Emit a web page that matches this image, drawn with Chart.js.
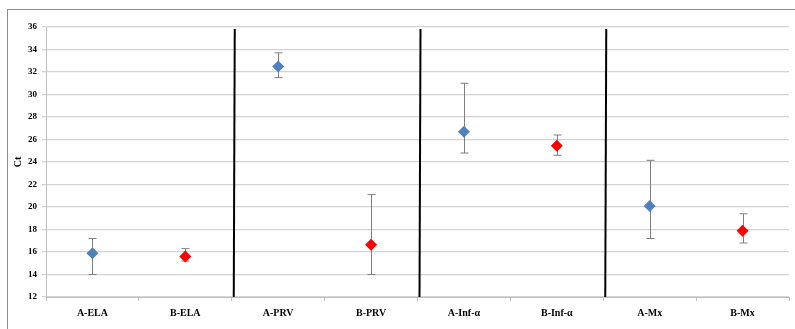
<!DOCTYPE html>
<html>
<head>
<meta charset="utf-8">
<script src="https://cdn.jsdelivr.net/npm/chart.js@4"></script>
<style>
  html, body { margin: 0; padding: 0; background: #fff; overflow: hidden; }
  #frame { position: absolute; left: 7px; top: 9px; width: 820px; height: 360px; border: 1px solid #8c8c8c; }
  #wrap { position: absolute; left: 0; top: 0; width: 795px; height: 329px; }
</style>
</head>
<body>
<div id="frame"></div>
<div id="wrap"><canvas id="ctChart"></canvas></div>
<script>
// Ct values per group
const categories = ['A-ELA', 'B-ELA', 'A-PRV', 'B-PRV', 'A-Inf-α', 'B-Inf-α', 'A-Mx', 'B-Mx'];
const ctMean = [15.9, 15.6, 32.5, 16.65, 26.7, 25.45, 20.1, 17.9];
const ctLow  = [14.0, 15.2, 31.5, 14.0, 24.8, 24.6, 17.2, 16.8];
const ctHigh = [17.2, 16.3, 33.7, 21.1, 31.0, 26.4, 24.15, 19.4];
const groupBreaks = [1.5, 3.5, 5.5];   // between category indices
const yMin = 12, yMax = 36, yStep = 2;

const pointColors = categories.map(c => c.startsWith('A') ? '#4f81bd' : '#ff0000');

// error bars (drawn under the markers)
const errorBars = {
    id: 'errorBars',
    beforeDatasetsDraw(chart) {
        const { ctx, scales: { x, y } } = chart;
        ctx.save();
        ctx.strokeStyle = '#7f7f7f';
        ctx.lineWidth = 1;
        categories.forEach((c, i) => {
            const px = Math.round(x.getPixelForValue(i)) + 0.5;
            const top = y.getPixelForValue(ctHigh[i]);
            const bot = y.getPixelForValue(ctLow[i]);
            ctx.beginPath();
            ctx.moveTo(px, top); ctx.lineTo(px, bot);
            ctx.moveTo(px - 4, top); ctx.lineTo(px + 4, top);
            ctx.moveTo(px - 4, bot); ctx.lineTo(px + 4, bot);
            ctx.stroke();
        });
        ctx.restore();
    }
};

// heavy black separators between the marker groups
const groupLines = {
    id: 'groupLines',
    afterDatasetsDraw(chart) {
        const { ctx, chartArea, scales: { x } } = chart;
        ctx.save();
        ctx.strokeStyle = '#000';
        ctx.lineWidth = 2;
        groupBreaks.forEach(b => {
            const px = x.getPixelForValue(b) + 2;
            ctx.beginPath();
            ctx.moveTo(px + 1, chartArea.top + 2);
            ctx.lineTo(px, chartArea.bottom);
            ctx.stroke();
        });
        ctx.restore();
    }
};

new Chart(document.getElementById('ctChart'), {
    type: 'line',
    data: {
        labels: categories,
        datasets: [{
            label: 'Ct',
            data: ctMean,
            showLine: false,
            pointStyle: 'rectRot',
            pointRadius: 6,
            pointBorderWidth: 0,
            pointBackgroundColor: pointColors,
            pointBorderColor: pointColors
        }]
    },
    options: {
        responsive: true,
        maintainAspectRatio: false,
        animation: false,
        layout: { padding: { left: 9, top: 27, right: 4, bottom: 0 } },
        plugins: { legend: { display: false }, tooltip: { enabled: false } },
        scales: {
            x: {
                offset: true,
                grid: { offset: true, drawOnChartArea: false, color: '#bfbfbf', tickLength: 4 },
                border: { color: '#bfbfbf' },
                ticks: { color: '#000', padding: 6, font: { family: 'Liberation Serif', weight: 'bold', size: 10 } },
                afterFit(s) { s.height = 32; }
            },
            y: {
                min: yMin,
                max: yMax,
                grid: { color: '#d4d4d4', lineWidth: 1.3, tickLength: 4 },
                border: { color: '#bfbfbf' },
                ticks: { stepSize: yStep, color: '#000', padding: 5, font: { family: 'Liberation Serif', weight: 'bold', size: 9 } },
                title: { display: true, text: 'Ct', color: '#000', padding: { top: 3, bottom: 0 }, font: { family: 'Liberation Serif', weight: 'bold', size: 10 } },
                afterFit(s) { s.width = 37; }
            }
        }
    },
    plugins: [errorBars, groupLines]
});
</script>
</body>
</html>
